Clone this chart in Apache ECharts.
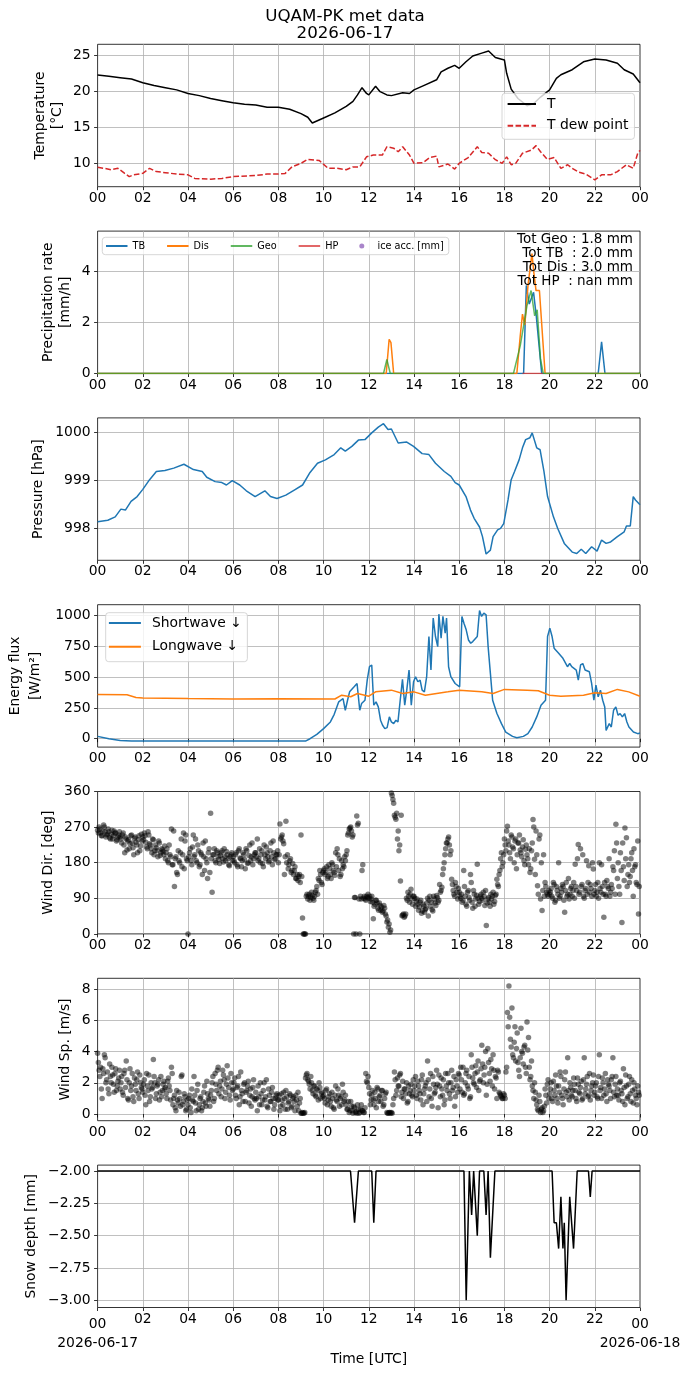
<!DOCTYPE html>
<html><head><meta charset="utf-8">
<script src="https://cdn.jsdelivr.net/npm/echarts@6/dist/echarts.min.js"></script>
<style>html,body{margin:0;padding:0;background:#fff}#c{width:690px;height:1377px}</style>
</head><body><div id="c"></div>
<script>
// ---------- data ----------
const temperature = [[0,22.27],[0.5,22.1],[1,21.9],[1.5,21.7],[2,21.2],[2.5,20.8],[3,20.5],[3.5,20.2],[4,19.7],[4.5,19.4],[5,19.0],[5.5,18.7],[6,18.4],[6.5,18.2],[7,18.1],[7.5,17.8],[8,17.8],[8.5,17.5],[9,16.9],[9.3,16.4],[9.5,15.6],[10,16.3],[10.5,17.0],[11,17.9],[11.3,18.6],[11.5,19.5],[11.7,20.5],[11.9,19.7],[12.0,19.5],[12.3,20.7],[12.5,19.95],[12.8,19.5],[13.0,19.4],[13.5,19.8],[13.8,19.7],[14,20.2],[14.5,20.9],[15,21.6],[15.2,22.7],[15.5,23.2],[15.8,23.6],[16,23.2],[16.3,24.1],[16.6,24.9],[17,25.3],[17.3,25.6],[17.6,24.7],[18,24.35],[18.1,22.5],[18.3,20.3],[18.6,19.0],[19,18.0],[19.3,18.3],[19.6,19.2],[20,20.2],[20.3,21.8],[20.5,22.3],[21,23.0],[21.5,24.1],[22,24.5],[22.5,24.35],[23,23.9],[23.3,23.0],[23.7,22.4],[24,21.2]];
const dewPoint = [[0,9.44],[0.3,9.3],[0.6,9.1],[0.9,9.3],[1.2,8.6],[1.4,8.15],[1.6,8.4],[2.0,8.6],[2.3,9.3],[2.6,8.85],[3.0,8.7],[3.5,8.5],[4.0,8.4],[4.3,7.9],[5.0,7.8],[5.5,7.9],[6.0,8.15],[7.0,8.3],[7.5,8.5],[8.0,8.5],[8.3,8.6],[8.6,9.5],[9.0,10.0],[9.3,10.55],[9.8,10.4],[10.2,9.3],[10.6,9.3],[11.0,9.1],[11.3,9.5],[11.6,9.5],[11.9,10.9],[12.2,11.15],[12.6,11.15],[12.8,12.3],[13.1,12.1],[13.3,11.6],[13.5,12.3],[13.8,11.15],[14.0,10.0],[14.4,10.1],[14.7,10.8],[15.0,11.0],[15.1,9.5],[15.5,9.9],[15.8,9.2],[16.0,10.0],[16.4,10.8],[16.8,12.3],[17.0,11.5],[17.3,11.4],[17.6,10.5],[17.9,10.0],[18.1,10.9],[18.3,9.8],[18.5,10.0],[18.8,11.4],[19.2,11.85],[19.4,12.45],[19.6,11.6],[19.9,10.55],[20.2,10.8],[20.5,9.3],[20.8,9.8],[21.0,9.3],[21.3,8.75],[21.6,8.5],[22.0,7.7],[22.3,8.4],[22.7,8.4],[23.0,8.85],[23.4,9.8],[23.7,9.3],[23.9,11.4],[24,11.8]];

const precipTB = [[0,0],[18.85,0],[18.97,3.45],[19.1,2.72],[19.29,3.18],[19.41,2.26],[19.65,0],[22.15,0],[22.3,1.24],[22.45,0],[24,0]];
const precipDis = [[0,0],[12.77,0],[12.9,1.34],[12.98,1.21],[13.1,0],[18.55,0],[18.7,1.47],[18.8,2.33],[18.9,1.9],[19.05,3.5],[19.22,4.7],[19.3,3.97],[19.4,3.25],[19.55,3.25],[19.8,0],[24,0]];
const precipGeo = [[0,0],[12.65,0],[12.8,0.55],[12.95,0],[18.4,0],[18.7,1.08],[19.0,2.66],[19.18,3.25],[19.34,2.26],[19.45,2.5],[19.6,0.55],[19.72,0],[23.95,0],[24,0.05]];
const precipHP = [[18.8,0],[19.7,0]];
const iceAcc = [];
const precipTotals = ['Tot Geo : 1.8 mm', 'Tot TB  : 2.0 mm', 'Tot Dis : 3.0 mm', 'Tot HP  : nan mm'];

const pressure = [[0,998.14],[0.45,998.17],[0.78,998.24],[1.03,998.40],[1.23,998.38],[1.48,998.56],[1.75,998.66],[2.0,998.81],[2.3,999.01],[2.6,999.18],[2.98,999.20],[3.37,999.25],[3.82,999.33],[4.24,999.22],[4.63,999.18],[4.83,999.06],[5.2,998.97],[5.5,998.95],[5.7,998.90],[5.96,998.99],[6.29,998.90],[6.58,998.78],[6.97,998.66],[7.4,998.78],[7.65,998.66],[7.94,998.62],[8.33,998.69],[8.72,998.80],[9.07,998.90],[9.4,999.16],[9.73,999.35],[10.08,999.42],[10.47,999.53],[10.76,999.67],[10.96,999.60],[11.25,999.70],[11.54,999.83],[11.83,999.84],[12.13,999.98],[12.42,1000.10],[12.65,1000.17],[12.85,1000.05],[13.0,1000.06],[13.3,999.77],[13.68,999.79],[13.98,999.70],[14.36,999.55],[14.66,999.53],[14.95,999.35],[15.34,999.18],[15.63,999.08],[15.82,998.95],[16.0,998.90],[16.3,998.66],[16.5,998.38],[16.66,998.21],[16.9,998.03],[17.03,997.83],[17.19,997.47],[17.38,997.55],[17.5,997.83],[17.7,997.97],[17.83,998.0],[17.97,998.10],[18.16,998.59],[18.3,999.01],[18.45,999.18],[18.65,999.42],[18.8,999.67],[18.94,999.84],[19.13,999.88],[19.23,999.98],[19.43,999.67],[19.58,999.63],[19.75,999.18],[19.91,998.66],[20.17,998.24],[20.36,998.0],[20.65,997.69],[21.0,997.51],[21.2,997.48],[21.4,997.57],[21.6,997.48],[21.86,997.62],[22.1,997.53],[22.3,997.76],[22.5,997.69],[22.7,997.72],[23.0,997.83],[23.3,997.93],[23.4,998.05],[23.57,998.05],[23.7,998.66],[23.8,998.59],[24.0,998.49]];

const shortwave = [[0,19],[0.5,0],[1.0,-14],[1.5,-19],[9.2,-19],[9.4,0],[9.7,35],[10.0,82],[10.3,136],[10.47,198],[10.67,299],[10.86,326],[10.96,231],[11.06,312],[11.15,380],[11.35,421],[11.48,448],[11.6,231],[11.68,285],[11.83,312],[11.93,475],[12.03,584],[12.13,598],[12.22,272],[12.32,299],[12.42,258],[12.52,150],[12.61,109],[12.71,82],[12.81,90],[12.91,177],[13.0,136],[13.1,122],[13.2,150],[13.29,136],[13.39,312],[13.49,481],[13.59,272],[13.68,394],[13.78,557],[13.88,272],[13.98,462],[14.07,503],[14.17,462],[14.27,475],[14.36,394],[14.46,380],[14.56,503],[14.66,829],[14.75,557],[14.85,978],[14.95,829],[15.05,747],[15.1,1010],[15.2,815],[15.28,992],[15.38,856],[15.44,978],[15.53,584],[15.63,503],[15.82,448],[16.02,421],[16.12,992],[16.21,937],[16.31,883],[16.41,801],[16.51,774],[16.6,788],[16.8,829],[16.9,1040],[16.99,992],[17.09,1019],[17.19,1005],[17.28,747],[17.38,530],[17.48,312],[17.67,204],[17.87,122],[18.06,54],[18.36,19],[18.55,8],[18.84,19],[19.04,41],[19.23,95],[19.43,177],[19.62,272],[19.82,312],[19.91,829],[20.01,897],[20.11,829],[20.2,734],[20.4,693],[20.59,652],[20.79,584],[20.89,610],[20.98,584],[21.18,557],[21.27,475],[21.37,598],[21.47,610],[21.57,557],[21.76,543],[21.86,448],[21.96,312],[22.05,435],[22.15,340],[22.25,394],[22.35,312],[22.44,258],[22.5,68],[22.64,122],[22.73,95],[22.83,231],[22.93,258],[23.03,190],[23.12,204],[23.22,177],[23.32,204],[23.42,136],[23.51,95],[23.71,54],[23.9,41],[24,46]];
const longwave = [[0,358],[1.3,356],[1.7,335],[2,330],[4,326],[6,323],[8,325],[10.5,322],[10.8,353],[11.2,340],[11.5,367],[12.0,345],[12.3,380],[13.0,394],[13.5,367],[14,380],[14.5,353],[15,367],[15.5,380],[16,394],[17,380],[17.5,367],[18,400],[19,394],[19.5,389],[20,353],[20.5,345],[21.5,353],[22.0,372],[22.5,367],[23.0,400],[23.5,380],[24,345]];

// wind: readings every 4 minutes from 00 UTC (set A) and the same grid shifted by 2 minutes (set B)
const windStepMinutes = 4;
const windOffsetMinutesB = 2;
const windDir = [
262,270,255,248,275,258,250,265,243,252,240,260,255,238,250,
245,230,255,205,240,235,215,248,230,200,245,225,238,210,252,
245,255,232,215,250,225,205,238,210,218,195,230,205,212,200,
190,215,180,200,265,175,120,195,150,185,205,170,255,235,190,
0,205,185,220,195,240,180,210,175,200,230,160,190,140,215,
305,105,200,185,210,195,178,205,190,215,185,200,175,195,205,
195,180,205,170,215,190,185,200,165,210,180,225,195,175,200,
205,240,190,180,210,170,200,220,195,185,230,175,205,190,200,
180,278,245,235,150,285,200,175,190,160,150,170,140,135,150,
250,40,0,0,100,95,85,105,90,95,110,100,135,150,125,
160,150,170,145,165,140,175,155,205,215,160,145,185,175,195,
200,250,265,270,245,0,92,298,280,0,88,175,95,85,92,
90,82,95,38,75,85,65,78,60,55,72,50,30,17,4,
356,340,300,290,240,210,134,46,50,45,90,105,80,113,75,
95,70,88,60,80,52,75,55,65,90,85,70,62,95,78,
97,80,125,110,150,180,215,230,245,200,138,110,95,120,88,
105,90,80,160,95,70,110,85,130,65,100,88,176,75,95,
90,105,72,21,88,80,100,95,75,97,138,120,160,205,180,
240,210,272,225,190,245,215,235,165,230,250,205,220,185,214,
200,175,155,210,289,189,260,122,240,88,59,200,130,105,95,
100,115,90,125,85,110,180,95,105,120,55,130,100,88,115,
95,130,176,110,226,105,120,200,90,115,100,172,125,95,164,
110,95,130,180,105,120,42,100,135,115,95,125,170,210,277,
140,120,205,29,170,268,243,150,130,190,160,215,175,125,50];
const windDirB = [
255,265,248,260,270,245,252,258,240,262,248,255,235,245,258,
240,250,225,245,212,238,228,250,218,242,232,205,248,222,235,
238,248,220,258,228,215,240,200,225,210,235,198,215,208,222,
205,185,225,195,175,260,190,155,210,180,240,200,165,250,185,
195,215,175,250,200,185,225,170,205,150,195,235,180,205,155,
190,200,215,180,205,188,198,210,182,195,208,190,172,200,185,
185,200,175,210,192,170,205,188,215,178,198,185,230,190,205,
195,185,215,200,178,225,190,205,182,210,195,235,188,200,210,
200,240,250,228,195,180,165,185,155,178,160,140,150,145,130,
145,0,0,95,88,100,92,98,85,105,120,140,160,130,155,
165,155,140,175,150,180,160,148,170,200,190,150,165,170,185,
210,255,268,260,250,92,0,275,88,95,160,90,88,95,100,
95,88,80,70,85,78,60,72,68,58,65,45,35,25,10,
350,330,295,305,260,225,300,48,42,50,85,95,100,88,95,
90,82,75,68,85,58,70,62,78,45,95,80,58,88,72,
92,85,105,118,165,200,230,240,225,210,125,100,130,105,115,
95,100,85,120,75,105,92,150,80,110,70,98,90,82,100,
85,95,110,78,92,70,88,105,82,100,125,150,190,170,200,
225,260,235,205,250,220,180,240,200,230,212,195,238,175,225,
190,215,165,230,270,150,200,100,250,180,110,95,120,100,110,
105,95,130,80,120,100,90,115,125,85,110,95,140,100,120,
110,90,120,190,100,215,125,95,110,185,130,105,115,180,100,
125,105,90,115,175,100,130,95,120,190,105,115,160,100,230,
180,100,160,230,135,190,120,175,145,205,95,170,130,235,120];
const windSpeed = [
3.9,2.8,3.0,1.0,2.6,3.6,2.2,1.6,3.2,2.0,2.5,1.4,2.9,1.8,2.3,
1.6,2.4,1.2,2.8,3.4,1.0,2.0,1.5,2.6,0.8,1.9,2.2,1.3,2.5,1.7,
1.4,2.2,0.6,1.8,2.5,1.1,1.6,3.5,2.0,1.3,1.9,0.9,2.4,1.5,2.1,
1.7,1.0,2.3,1.5,3.0,0.6,1.2,0.2,0.9,1.4,0.5,2.5,0.8,1.1,0.3,
0.6,1.2,0.1,0.9,2.4,0.7,1.5,0.3,1.0,0.2,0.8,1.8,0.5,1.3,0.9,
1.2,2.0,0.8,2.6,1.5,3.0,1.8,1.1,2.8,2.2,1.4,3.1,1.7,0.9,2.0,
1.6,2.3,1.0,1.8,0.6,2.7,1.3,1.9,0.8,1.5,2.1,1.2,0.5,1.7,1.0,
1.4,0.2,1.1,2.0,0.6,1.5,0.9,2.2,0.4,1.2,0.8,1.7,0.3,1.0,1.3,
0.9,0.2,1.3,0.6,1.0,1.5,0.3,0.8,1.2,0.5,1.1,0.2,0.9,1.4,0.7,
0.05,0.1,0.05,2.3,2.6,2.1,1.6,2.0,1.3,1.8,1.1,1.5,2.0,1.0,1.4,
1.2,0.7,1.6,0.9,1.3,0.5,1.0,0.3,1.8,0.8,1.2,1.0,0.6,1.4,0.9,
0.6,0.3,0.1,0.8,0.2,0.5,0.1,0.05,0.3,0.1,0.6,0.2,0.1,2.6,2.0,
1.7,0.6,1.2,0.9,1.4,0.4,1.6,1.1,0.8,1.5,0.6,1.3,0.1,0.05,0.1,
0.1,0.6,2.7,1.2,2.3,1.8,2.6,1.4,1.0,1.6,2.0,0.8,1.3,1.9,1.1,
1.5,2.4,1.0,1.8,1.3,2.2,0.6,1.6,2.0,3.4,1.1,2.6,0.5,1.9,1.4,
2.8,0.4,1.8,2.3,1.2,0.6,2.6,1.5,2.0,1.0,2.8,1.7,0.5,2.2,1.4,
2.5,3.0,1.4,1.2,2.0,2.8,1.6,1.0,3.8,2.3,1.9,3.1,2.7,1.5,2.2,
4.4,2.0,3.0,1.2,4.2,2.6,3.5,1.8,2.8,2.4,1.0,2.7,1.3,1.1,1.0,
1.2,2.7,6.5,8.2,4.8,6.8,3.6,5.6,4.2,3.3,2.4,5.5,3.9,4.3,3.0,
5.9,4.9,2.2,3.4,1.5,2.0,0.9,0.3,1.2,0.1,0.4,0.2,1.6,0.7,2.2,
1.3,2.0,0.8,1.5,2.5,1.0,1.8,2.7,1.2,0.6,2.2,1.4,3.6,0.9,1.7,
1.1,2.3,1.5,0.8,1.9,1.3,2.1,1.0,3.6,1.6,2.4,1.2,0.9,1.8,2.5,
1.4,2.0,1.0,3.8,1.7,2.3,1.2,2.6,0.8,1.9,1.5,2.2,3.6,1.1,2.4,
1.6,0.9,2.1,1.3,2.9,0.6,1.8,1.1,2.4,0.8,1.5,2.0,1.2,0.6,1.4];
const windSpeedB = [
3.3,2.4,1.6,2.9,3.8,2.0,2.7,1.3,2.4,3.0,1.9,2.6,1.5,2.1,2.8,
2.0,1.4,2.6,1.7,2.2,0.9,2.9,1.8,1.1,2.3,1.5,2.7,1.0,2.0,1.6,
1.9,1.2,2.6,1.5,0.8,2.0,1.7,2.4,1.0,1.8,2.2,1.4,1.1,1.9,1.6,
1.3,2.1,1.8,0.9,2.6,1.0,0.4,1.5,0.7,1.0,2.4,0.6,1.3,0.2,0.9,
1.0,0.4,1.6,0.8,1.2,0.2,1.9,0.6,1.1,0.4,1.4,0.7,2.1,1.0,0.5,
1.5,2.4,1.0,1.9,2.8,1.3,2.1,1.6,2.5,1.0,1.9,2.3,1.2,2.6,1.5,
2.0,1.2,1.7,2.4,1.1,1.5,0.8,2.0,1.4,1.8,0.7,1.6,1.1,2.2,0.9,
1.0,1.8,0.6,1.3,0.9,2.0,1.1,0.5,1.6,0.8,1.4,1.0,0.6,1.2,0.9,
1.2,0.5,0.9,1.4,0.3,1.1,0.7,1.3,0.4,1.0,0.8,1.2,0.5,0.2,1.0,
0.05,0.05,0.1,2.5,2.2,1.9,2.4,1.5,1.8,1.2,1.6,0.9,1.7,1.3,1.1,
1.0,1.5,0.6,1.1,0.8,1.4,0.4,1.2,0.9,1.6,0.5,1.1,1.9,0.8,1.2,
0.3,0.8,0.2,0.5,0.05,0.4,0.15,0.6,0.05,0.3,0.2,0.1,0.4,2.1,2.4,
1.3,0.9,1.5,0.6,1.0,1.7,0.8,1.2,1.5,0.5,1.0,1.4,0.05,0.1,0.05,
0.05,1.0,2.2,1.5,1.8,2.5,1.1,2.1,1.6,1.3,0.7,1.8,1.5,1.2,2.2,
1.8,1.2,2.1,1.5,0.9,2.5,1.3,1.8,0.8,2.2,1.6,1.0,2.4,1.3,1.7,
1.9,2.5,1.1,1.6,2.2,0.9,1.8,2.6,1.3,2.0,1.5,2.4,1.1,1.8,2.6,
1.6,2.2,3.0,1.3,2.6,1.8,2.4,1.1,3.0,2.0,2.6,1.7,3.4,2.1,2.9,
3.2,2.5,4.0,1.9,3.3,2.1,2.9,3.8,1.6,2.3,2.8,1.4,1.2,1.0,1.3,
1.0,3.0,5.6,6.2,4.3,3.8,4.6,3.4,5.2,2.8,3.6,4.0,3.2,4.4,2.6,
4.1,3.0,2.4,1.8,1.0,1.4,0.6,0.2,0.8,0.3,0.1,0.5,1.2,1.9,1.0,
1.6,1.0,2.1,1.2,1.8,0.7,1.4,2.4,1.0,1.6,2.7,1.1,1.5,2.0,1.2,
1.5,1.9,1.0,2.3,1.4,1.7,0.9,2.2,1.3,1.9,1.1,2.6,1.5,2.0,1.2,
1.8,1.1,2.4,1.5,1.0,2.0,1.6,1.3,2.2,1.8,1.0,2.4,1.4,1.9,1.2,
1.2,2.0,1.5,0.8,1.7,2.5,1.0,1.9,1.3,2.2,0.7,1.6,1.0,1.8,1.2];

const snowDepth = [[0,-2],[11.19,-2],[11.37,-2.4],[11.54,-2],[12.13,-2],[12.22,-2.4],[12.32,-2],[16.21,-2],[16.31,-3],[16.45,-2],[16.55,-2.34],[16.64,-2],[16.8,-2.5],[16.9,-2],[17.09,-2],[17.19,-2.34],[17.28,-2],[17.38,-2.67],[17.58,-2],[20.11,-2],[20.2,-2.4],[20.3,-2.4],[20.4,-2.6],[20.5,-2.2],[20.59,-2.6],[20.65,-2.4],[20.73,-3],[20.89,-2.2],[20.95,-2.2],[21.06,-2.6],[21.22,-2],[21.72,-2],[21.8,-2.2],[21.88,-2],[24,-2]];

const tempTicks = [10, 15, 20, 25];
const precipTicks = [0, 2, 4];
const pressureTicks = [998, 999, 1000];
const fluxTicks = [0, 250, 500, 750, 1000];
const dirTicks = [0, 90, 180, 270, 360];
const speedTicks = [0, 2, 4, 6, 8];
const snowTicks = [-3, -2.75, -2.5, -2.25, -2];
const dayEdgeTicks = [0, 24];
const startDate = '2026-06-17', endDate = '2026-06-18';
const titleLines = ['UQAM-PK met data', startDate];

// ---------- layout / style ----------
const FONT = "'DejaVu Sans', sans-serif";
const LEFT = 97.6, PLOT_W = 542.4, TOP0 = 44.3, STEP = 186.8, PLOT_H = 142.4;
const gridLine = {color: '#b0b0b0', width: 0.8};
const tickStyle = {color: '#000', width: 0.8};
const txt = {fontFamily: FONT, fontSize: 13.9, color: '#000'};
const pad2 = v => { const h = Math.round(v) % 24; return (h < 10 ? '0' : '') + h; };

const panels = [
  {min: 6.75, max: 26.53, ticks: tempTicks, name: 'Temperature\n[°C]', gap: 31.8},
  {min: 0, max: 5.58, ticks: precipTicks, name: 'Precipitation rate\n[mm/h]', gap: 24.1},
  {min: 997.34, max: 1000.29, ticks: pressureTicks, name: 'Pressure [hPa]', gap: 50.3},
  {min: -68, max: 1087, ticks: fluxTicks, name: 'Energy flux\n[W/m²]', gap: 52.4, lh: 20},
  {min: 0, max: 360, ticks: dirTicks, name: 'Wind Dir. [deg]', gap: 40.6, edge: true},
  {min: -0.43, max: 8.70, ticks: speedTicks, name: 'Wind Sp. [m/s]', gap: 23.9},
  {min: -3.056, max: -1.954, ticks: snowTicks, name: 'Snow depth [mm]', gap: 57.4,
   fmt: v => v.toFixed(2).replace('-', '\u2212')}
];

const grid = panels.map((p, i) => ({
  left: LEFT, top: TOP0 + STEP * i, width: PLOT_W, height: PLOT_H,
  show: true, borderColor: '#000', borderWidth: 0.8, backgroundColor: 'rgba(0,0,0,0)',
  containLabel: false, outerBoundsMode: 'none'
}));

const xAxis = panels.map((p, i) => Object.assign({
  type: 'value', gridIndex: i, min: 0, max: 24, interval: 2,
  axisLine: {show: false},
  axisTick: {show: true, inside: false, length: 3.5, lineStyle: tickStyle},
  axisLabel: Object.assign({}, txt, {
    margin: 4.5, lineHeight: 14, showMinLabel: true, showMaxLabel: true, hideOverlap: false,
    formatter: i < 6 ? (v => pad2(v)) : (v => (v === 0 || v === 24) ? '{a|00}' : pad2(v)),
    rich: {a: Object.assign({}, txt, {lineHeight: 24})}
  }),
  splitLine: {show: true, showMinLine: false, showMaxLine: false, lineStyle: gridLine}
}, i === 6 ? {name: 'Time [UTC]', nameLocation: 'middle', nameGap: 44.7, nameMoveOverlap: false,
  nameTextStyle: Object.assign({}, txt, {lineHeight: 14})} : {}));
// date labels under the first and last tick of the bottom panel
xAxis.push({
  type: 'value', gridIndex: 6, position: 'bottom', min: 0, max: 24,
  axisLine: {show: false}, axisTick: {show: false}, splitLine: {show: false},
  axisLabel: Object.assign({}, txt, {margin: 28.5, lineHeight: 14, customValues: dayEdgeTicks,
    showMinLabel: true, showMaxLabel: true, hideOverlap: false,
    formatter: v => v === 0 ? startDate : endDate})
});

const yAxis = panels.map((p, i) => ({
  type: 'value', gridIndex: i, min: p.min, max: p.max,
  axisLine: {show: false},
  axisTick: {show: true, inside: false, length: 3.5, lineStyle: tickStyle, customValues: p.ticks},
  axisLabel: Object.assign({}, txt, {margin: 7, customValues: p.ticks, formatter: p.fmt || (v => String(v))}),
  splitLine: {show: true, lineStyle: gridLine, showMinLine: !p.edge, showMaxLine: !p.edge},
  name: p.name, nameLocation: 'middle', nameRotate: 90, nameGap: p.gap, nameMoveOverlap: false,
  nameTextStyle: Object.assign({}, txt, {lineHeight: p.lh || 17})
}));

const line = (name, idx, data, color, extra) => Object.assign({
  name, type: 'line', xAxisIndex: idx, yAxisIndex: idx, data, symbol: 'none', showSymbol: false,
  color, lineStyle: {color, width: 1.5}, clip: true, z: 3
}, extra || {});
const toHours = (arr, offset) => arr.map((v, i) => [(i * windStepMinutes + offset) / 60, v]);
const dots = (name, idx, data) => ({name, type: 'scatter', xAxisIndex: idx, yAxisIndex: idx, data,
  symbolSize: 5.5, itemStyle: {color: '#000', opacity: 0.5}, clip: true});

const series = [
  line('T', 0, temperature, '#000000'),
  line('T dew point', 0, dewPoint, '#d62728', {lineStyle: {color: '#d62728', width: 1.5, type: [5.55, 2.4]}}),
  line('TB', 1, precipTB, '#1f77b4'),
  line('Dis', 1, precipDis, '#ff7f0e'),
  line('Geo', 1, precipGeo, 'rgba(44,160,44,0.75)'),
  line('HP', 1, precipHP, 'rgba(214,39,40,0.7)'),
  {name: 'ice acc. [mm]', type: 'scatter', xAxisIndex: 1, yAxisIndex: 1, data: iceAcc, symbolSize: 5,
   itemStyle: {color: '#9467bd'}},
  line('Pressure', 2, pressure, '#1f77b4'),
  line('Shortwave ↓', 3, shortwave, '#1f77b4'),
  line('Longwave ↓', 3, longwave, '#ff7f0e'),
  dots('Wind Dir.', 4, toHours(windDir, 0)),
  dots('Wind Dir. B', 4, toHours(windDirB, windOffsetMinutesB)),
  dots('Wind Sp.', 5, toHours(windSpeed, 0)),
  dots('Wind Sp. B', 5, toHours(windSpeedB, windOffsetMinutesB)),
  line('Snow depth', 6, snowDepth, '#000000')
];

const legendBase = {
  borderColor: '#cccccc', borderWidth: 0.8, borderRadius: 3,
  backgroundColor: 'rgba(255,255,255,0.8)', selectedMode: false, z: 10
};
const noSym = n => ({name: n, itemStyle: {opacity: 0}});
const legend = [
  Object.assign({}, legendBase, {
    data: ['T', 'T dew point'].map(noSym), orient: 'vertical', left: 502, top: 93.3,
    itemWidth: 28.4, itemHeight: 10, itemGap: 7.7, padding: [3.7, 6, 6.6, 4.6],
    textStyle: Object.assign({}, txt, {padding: [0, 0, 0, 6]})
  }),
  Object.assign({}, legendBase, {
    data: ['TB', 'Dis', 'Geo', 'HP'].map(noSym).concat([{name: 'ice acc. [mm]'}]),
    orient: 'horizontal', left: 102.3, top: 237.3,
    itemWidth: 21.5, itemHeight: 5, itemGap: 21, padding: [3.7, 5, 3.7, 2.7],
    textStyle: Object.assign({}, txt, {fontSize: 9.7})
  }),
  Object.assign({}, legendBase, {
    data: ['Shortwave ↓', 'Longwave ↓'].map(noSym), orient: 'vertical', left: 105.7, top: 612.7,
    itemWidth: 32, itemHeight: 10, itemGap: 9.7, padding: [3.3, 5.5, 8, 2.2],
    textStyle: Object.assign({}, txt, {padding: [0, 0, 0, 6]})
  })
];

const chart = echarts.init(document.getElementById('c'), null, {renderer: 'canvas', width: 690, height: 1377});
chart.setOption({
  animation: false,
  backgroundColor: '#ffffff',
  grid, xAxis, yAxis, series, legend,
  graphic: [
    {type: 'text', x: 345, y: 8.35, z: 100,
     style: {text: titleLines.join('\n'), fontFamily: FONT, fontSize: 16.7, lineHeight: 16.7, fill: '#000',
             textAlign: 'center', textVerticalAlign: 'top'}},
    {type: 'text', right: 57, top: 232.3, z: 100,
     style: {text: precipTotals.join('\n'), fontFamily: FONT, fontSize: 13.5, lineHeight: 14, fill: '#000', textAlign: 'right'}}
  ]
});
</script></body></html>
